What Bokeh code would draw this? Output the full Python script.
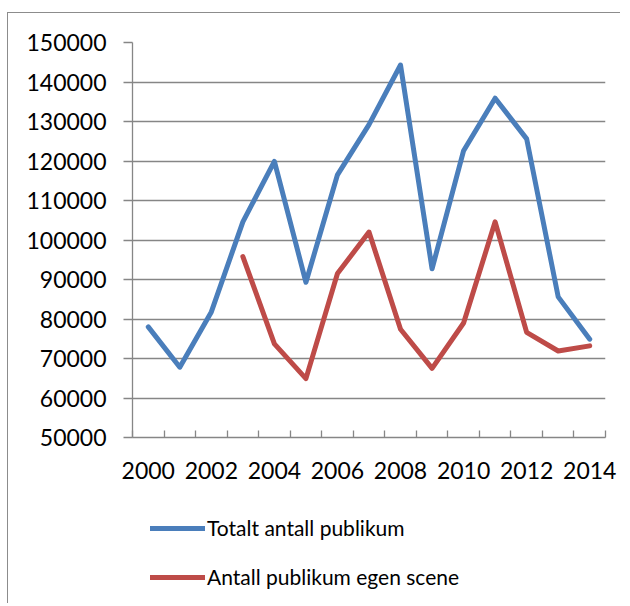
from bokeh.plotting import figure
from bokeh.layouts import column, row
from bokeh.models import (ColumnDataSource, Range1d, FixedTicker, NumeralTickFormatter,
                          Legend, LegendItem, Spacer)
from bokeh.embed import file_html
from bokeh.resources import INLINE

years = list(range(2000, 2015))
totalt = [78000, 67800, 81800, 104600, 119900, 89300, 116500, 129200, 144300,
          92700, 122600, 135900, 125600, 85600, 74900]
egen_years = list(range(2003, 2015))
egen = [95800, 73700, 64900, 91500, 102000, 77400, 67500, 79000, 104600,
        76600, 71900, 73200]
y_ticks = list(range(50000, 150001, 10000))
x_label_years = list(range(2000, 2015, 2))
x_boundaries = [y - 0.5 for y in range(2000, 2016)]
series_names = ["Totalt antall publikum", "Antall publikum egen scene"]

FONT = "Lato"
GRID = "#868686"
BLUE = "#4A7EBB"
RED = "#BE4B48"
W = 612

p = figure(width=W, height=490, output_backend="svg", toolbar_location=None,
           x_range=Range1d(1999.5, 2014.5), y_range=Range1d(50000, 150000),
           min_border_left=124, min_border_right=15, min_border_top=29,
           min_border_bottom=66)
p.outline_line_color = None
p.background_fill_color = "white"
p.border_fill_color = "white"

src_t = ColumnDataSource(dict(x=years, y=totalt))
src_e = ColumnDataSource(dict(x=egen_years, y=egen))
line_kw = dict(line_width=5, line_join="round", line_cap="round")
p.line("x", "y", source=src_t, line_color=BLUE, **line_kw)
p.line("x", "y", source=src_e, line_color=RED, **line_kw)

# axes
xa = p.xaxis[0]
xa.ticker = FixedTicker(ticks=x_label_years, minor_ticks=x_boundaries)
xa.major_tick_in = 0
xa.major_tick_out = 0
xa.minor_tick_in = 7
xa.minor_tick_out = 0
xa.minor_tick_line_color = GRID
xa.minor_tick_line_width = 1.3
xa.axis_line_color = GRID
xa.axis_line_width = 1.3
xa.major_label_text_font = FONT
xa.major_label_text_font_size = "23px"
xa.major_label_text_color = "black"
xa.major_label_standoff = 24

ya = p.yaxis[0]
ya.ticker = FixedTicker(ticks=y_ticks)
ya.formatter = NumeralTickFormatter(format="0")
ya.major_tick_in = 0
ya.major_tick_out = 9
ya.major_tick_line_color = GRID
ya.major_tick_line_width = 1.3
ya.minor_tick_line_color = None
ya.axis_line_color = GRID
ya.axis_line_width = 1.3
ya.major_label_text_font = FONT
ya.major_label_text_font_size = "23px"
ya.major_label_text_color = "black"
ya.major_label_standoff = 17

p.xgrid.grid_line_color = None
p.ygrid.grid_line_color = GRID
p.ygrid.grid_line_width = 1.3

# legend panel: same series drawn out of view, only their legend entries show
lf = figure(width=W, height=100, output_backend="svg", toolbar_location=None,
            x_range=Range1d(0, 1), y_range=Range1d(0, 1),
            x_axis_type=None, y_axis_type=None, min_border=0)
lf.outline_line_color = None
lf.border_fill_color = "white"
lf.background_fill_color = "white"
d1 = lf.line("x", "y", source=src_t, line_color=BLUE, **line_kw)
d2 = lf.line("x", "y", source=src_e, line_color=RED, **line_kw)
legend = Legend(items=[LegendItem(label=series_names[0], renderers=[d1]),
                       LegendItem(label=series_names[1], renderers=[d2])],
                location=(18, 14), orientation="vertical",
                glyph_width=55, glyph_height=20, spacing=24, padding=0, margin=0,
                label_standoff=2, border_line_color=None, background_fill_alpha=0,
                label_text_font=FONT, label_text_font_size="21px",
                label_text_color="black")
lf.add_layout(legend, "center")

inner = column(p, lf, spacing=0)
inner.styles = {"border-top": "1.5px solid #8c8c8c",
                "border-left": "1.5px solid #8c8c8c"}
layout = column(Spacer(width=W, height=12), row(Spacer(width=7, height=10), inner, spacing=0),
                spacing=0)

open("out.html", "w").write(file_html(layout, INLINE))
